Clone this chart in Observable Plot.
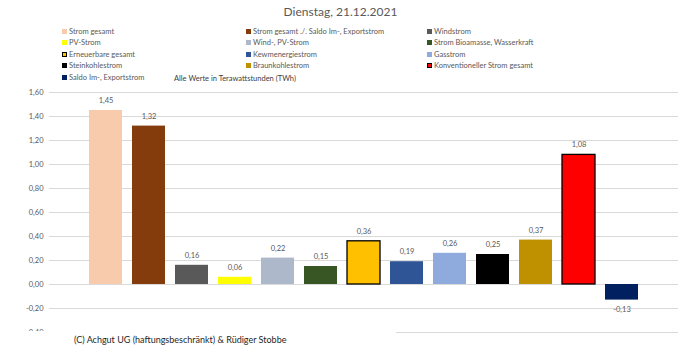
<!DOCTYPE html>
<html><head><meta charset="utf-8">
<script src="https://cdn.jsdelivr.net/npm/d3@7"></script>
<script src="https://cdn.jsdelivr.net/npm/@observablehq/plot@0.6"></script>
<style>
body{margin:0;background:#fff;font-family:Lato,"Liberation Sans",sans-serif;}
#wrap{position:relative;width:681px;height:355px;overflow:hidden;}
#title{position:absolute;left:0;width:681px;top:4px;text-align:center;font-size:12px;color:#595959;}
.lg{position:absolute;font-size:7.5px;color:#595959;white-space:nowrap;line-height:9px;}
.sw{display:inline-block;width:5px;height:5px;margin-right:2px;vertical-align:0px;box-sizing:border-box;}
#note{position:absolute;left:174px;top:74px;font-size:7.5px;color:#404040;}
#cap{position:absolute;left:0;top:331px;width:396px;height:24px;background:#fff;}
#cap span{position:absolute;left:74px;top:3px;font-size:9px;color:#262626;white-space:nowrap;}
</style></head>
<body><div id="wrap"><div id="chart"></div><div id="title">Dienstag, 21.12.2021</div><div id="note">Alle Werte in Terawattstunden (TWh)</div><div id="cap"><span>(C) Achgut UG (haftungsbeschränkt) &amp; Rüdiger Stobbe</span></div></div>
<script>
const categories = ["Strom gesamt","Strom gesamt ./. Saldo Im-, Exportstrom","Windstrom","PV-Strom","Wind-, PV-Strom","Strom Bioamasse, Wasserkraft","Erneuerbare gesamt","Kernenergiestrom","Gasstrom","Steinkohlestrom","Braunkohlestrom","Konventioneller Strom gesamt","Saldo Im-, Exportstrom"];
const legendLabels = ["Strom gesamt","Strom gesamt ./. Saldo Im-, Exportstrom","Windstrom","PV-Strom","Wind-, PV-Strom","Strom Bioamasse, Wasserkraft","Erneuerbare gesamt","Kewmenergiestrom","Gasstrom","Steinkohlestrom","Braunkohlestrom","Konventioneller Strom gesamt","Saldo Im-, Exportstrom"];
const values = [1.45,1.32,0.16,0.06,0.22,0.15,0.36,0.19,0.26,0.25,0.37,1.08,-0.13];
const colors = ["#F8CBAD","#843C0C","#595959","#FFFF00","#ADB9CA","#375623","#FFC000","#2F5597","#8FAADC","#000000","#BF9000","#FF0000","#002060"];
const outlined = [false,false,false,false,false,false,true,false,false,false,false,true,false];
const yTicks = [-0.4,-0.2,0,0.2,0.4,0.6,0.8,1.0,1.2,1.4,1.6];

const data = categories.map((c,i)=>({cat:c,v:values[i],color:colors[i],outl:outlined[i]}));
const fmt = v => d3.format(".2f")(v).replace(".",",").replace("−","-");
const pos = data.filter(d=>d.v>=0), neg = data.filter(d=>d.v<0);

const chart = Plot.plot({
  width:681, height:355,
  marginTop:92, marginBottom:23, marginLeft:49, marginRight:3,
  style:{fontFamily:"Lato, 'Liberation Sans', sans-serif", fontSize:"7.5px", color:"#595959", background:"transparent"},
  x:{domain:categories, range:[83.5,644.5], paddingInner:0.23, paddingOuter:0.115, axis:null},
  y:{domain:[-0.4,1.6], ticks:yTicks, tickFormat:fmt, tickSize:0, tickPadding:6, label:null, grid:false},
  marks:[
    Plot.ruleY(yTicks,{stroke:"#D9D9D9",strokeWidth:1}),
    Plot.barY(data,{x:"cat",y:"v",fill:"color",stroke:d=>d.outl?"#000":"none",strokeWidth:1.3}),
    Plot.text(pos,{x:"cat",y:"v",text:d=>fmt(d.v),dy:-10,fill:"#595959",fontSize:7.5}),
    Plot.text(neg,{x:"cat",y:"v",text:d=>fmt(d.v),dy:9,fill:"#595959",fontSize:7.5}),
  ]
});
document.getElementById("chart").appendChild(chart);

const wrap = document.getElementById("wrap");
const colX = [62,246,427];
const rowY = [27,38,50,61,73];
legendLabels.forEach((l,i)=>{
  const d = document.createElement("div");
  d.className="lg";
  d.style.left = colX[i%3]+"px";
  d.style.top = rowY[Math.floor(i/3)]+"px";
  const s = document.createElement("span");
  s.className="sw";
  s.style.background = colors[i];
  if(outlined[i]) s.style.border="1px solid #000";
  d.appendChild(s);
  d.appendChild(document.createTextNode(l));
  wrap.appendChild(d);
});
</script></body></html>
